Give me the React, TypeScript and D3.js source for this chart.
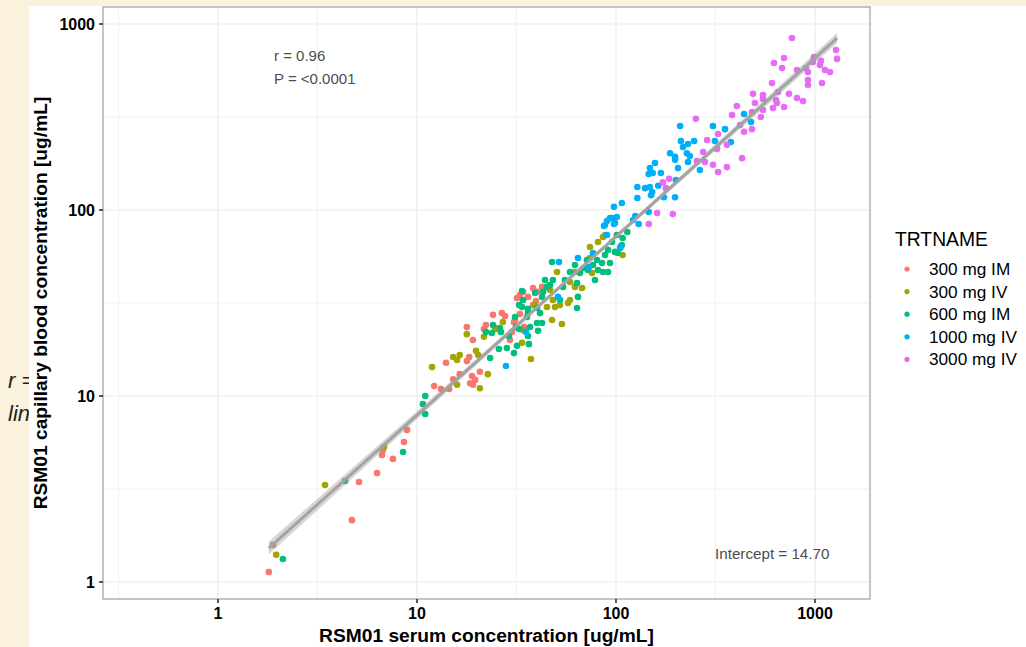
import * as d3 from 'd3';

const GROUPS = ['300 mg IM', '300 mg IV', '600 mg IM', '1000 mg IV', '3000 mg IV'];
const COLORS = ['#F8766D', '#A3A500', '#00BF7D', '#00B0F6', '#E76BF3'];

// [serum, capillary] in ug/mL
const im300 = [
  [1.80, 1.13], [1.89, 1.58], [4.71, 2.15], [5.11, 3.45], [6.30, 3.85], [6.67, 4.82], [6.75, 5.13], [7.57, 4.59], [8.60, 5.66], [8.91, 6.57],
  [12.2, 11.3], [13.2, 10.9], [14.5, 10.9], [15.2, 12.3], [14.0, 15.1], [18.3, 16.2], [17.8, 15.4], [16.4, 13.1], [18.9, 12.8], [18.5, 11.7],
  [19.6, 12.2], [20.7, 13.5], [19.1, 11.5], [19.1, 20.0], [17.8, 23.5], [21.7, 22.9], [22.2, 24.1], [24.1, 27.3], [27.7, 26.9], [29.3, 20.0],
  [30.0, 22.1], [30.7, 25.0], [32.9, 27.6], [31.8, 33.6], [34.1, 36.3], [34.5, 23.5], [38.3, 30.8], [39.6, 32.4], [26.7, 27.9], [31.1, 25.6],
  [24.7, 23.2], [32.9, 34.9], [36.1, 34.1], [38.3, 38.1], [40.1, 36.3], [42.5, 38.6],
];
const iv300 = [
  [1.96, 1.40], [3.45, 3.32], [6.83, 5.32], [11.9, 14.3], [15.9, 11.5], [15.2, 16.2], [16.4, 16.6], [15.9, 15.6], [20.7, 11.0], [22.7, 13.1],
  [19.8, 17.5], [20.3, 16.6], [17.8, 21.5], [21.7, 20.8], [24.9, 22.9], [27.0, 25.0], [33.7, 19.3], [37.4, 15.8], [34.1, 22.6], [39.2, 30.8],
  [47.7, 25.6], [53.5, 24.4], [46.6, 37.2], [50.5, 46.4], [48.2, 32.8], [45.0, 30.1], [49.4, 30.1], [52.3, 30.8], [58.7, 41.0], [58.7, 32.8],
  [57.4, 31.6], [62.2, 38.6], [62.2, 46.4], [67.5, 38.1], [74.0, 55.2], [74.0, 63.2], [75.8, 45.8], [81.2, 67.3], [86.0, 71.6], [108, 57.3],
  [88.1, 73.4],
];
const im600 = [
  [2.12, 1.33], [4.35, 3.49], [8.51, 5.0], [10.7, 9.06], [11.0, 8.0], [11.0, 10.0], [23.3, 16.0], [22.2, 22.1], [23.8, 21.8], [24.1, 24.1],
  [26.4, 22.1], [25.8, 17.9], [28.3, 18.1], [30.7, 17.0], [31.8, 18.6], [29.0, 21.0], [31.4, 23.5], [32.6, 22.9], [31.1, 26.6], [32.6, 30.8],
  [34.1, 32.8], [36.1, 21.0], [36.5, 19.0], [37.0, 23.5], [35.7, 26.6], [40.1, 24.7], [40.6, 22.4], [36.1, 29.4], [39.2, 35.8], [42.5, 34.1],
  [26.1, 23.2], [33.7, 36.7], [33.7, 30.1], [36.1, 27.9], [41.5, 27.9], [40.1, 29.7], [42.5, 24.7], [43.0, 36.3], [45.0, 38.6], [44.0, 42.0],
  [47.7, 52.5], [48.2, 42.0], [46.6, 39.5], [52.3, 32.8], [55.4, 42.0], [54.2, 38.6], [63.7, 29.7], [64.4, 34.1], [58.7, 46.4], [62.2, 50.6],
  [65.9, 45.8], [63.7, 40.5], [69.0, 48.8], [72.3, 47.6], [71.5, 53.8], [78.4, 42.0], [76.6, 50.6], [80.3, 53.8], [85.1, 51.9], [81.2, 47.6],
  [86.0, 46.4], [91.2, 46.4], [88.1, 57.3], [91.2, 61.0], [95.5, 67.3], [98.9, 59.5], [102, 58.7], [107, 64.8], [105, 62.5], [101, 73.4],
  [108, 70.7], [95.5, 90.6], [114, 76.2], [93.3, 51.9],
];
const iv1000 = [
  [28.0, 14.5], [35.3, 22.1], [51.7, 52.5], [51.1, 34.1], [64.4, 55.2], [73.2, 49.4], [76.6, 58.7], [90.1, 73.4], [105, 63.2], [88.1, 83.0],
  [90.1, 87.3], [93.3, 90.6], [98.9, 85.1], [101, 91.7], [97.7, 104], [107, 109], [87.1, 82.0], [97.7, 84.1], [122, 88.4], [125, 92.8],
  [130, 84.1], [146, 97.5], [128, 116], [128, 133], [140, 131], [148, 133], [152, 125], [163, 135], [150, 120], [174, 117],
  [198, 117], [200, 145], [157, 179], [148, 168], [146, 156], [153, 158], [168, 158], [187, 202], [198, 193], [198, 186],
  [205, 168], [212, 235], [217, 218], [230, 226], [247, 235], [210, 283], [227, 202], [235, 195], [230, 181], [264, 164],
  [307, 283], [353, 272], [314, 235], [440, 328], [477, 297], [378, 232],
];
const iv3000 = [
  [766, 841], [1276, 725], [1291, 649], [622, 617], [699, 656], [683, 580], [812, 566], [901, 580], [988, 665], [977, 625],
  [1072, 633], [1059, 602], [922, 552], [1122, 566], [1189, 552], [922, 500], [922, 470], [1084, 482], [608, 482], [740, 421],
  [812, 400], [871, 385], [652, 431], [488, 421], [548, 415], [548, 395], [499, 376], [637, 390], [644, 376], [615, 353],
  [699, 358], [405, 362], [548, 345], [383, 324], [482, 336], [535, 316], [420, 286], [440, 263], [482, 272], [326, 256],
  [287, 238], [361, 224], [322, 213], [274, 205], [307, 175], [280, 181], [326, 160], [361, 170], [430, 190], [252, 309],
  [255, 183], [185, 147], [172, 141], [178, 131], [161, 96.3], [193, 95.2], [146, 84.1],
];
const SERIES = [im300, iv300, im600, iv1000, iv3000];

const MAJOR = [1, 10, 100, 1000];
const MINOR = [0.316, 3.16, 31.6, 316];
// log10 fit
const FIT_INTERCEPT = -0.063;
const FIT_SLOPE = 0.96;

const FONT = 'Liberation Sans, Arial, Helvetica, sans-serif';

export default function App() {
  const W = 1026, H = 647;
  const panel = { left: 103, right: 870, top: 7, bottom: 599 };

  const x = d3.scaleLog().domain([0.2643, 1890]).range([panel.left, panel.right]);
  const y = d3.scaleLog().domain([0.81, 1234]).range([panel.bottom, panel.top]);

  // confidence band of the log-log fit
  const all = SERIES.flat();
  const lx = all.map(d => Math.log10(d[0]));
  const ly = all.map(d => Math.log10(d[1]));
  const n = all.length;
  const xbar = d3.mean(lx);
  const sxx = d3.sum(lx, v => (v - xbar) ** 2);
  const s = Math.sqrt(d3.sum(lx, (v, i) => (ly[i] - (FIT_INTERCEPT + FIT_SLOPE * v)) ** 2) / (n - 2));
  const [lo, hi] = d3.extent(lx);
  const fitPts = d3.range(0, 81).map(i => {
    const lv = lo + (hi - lo) * i / 80;
    const fit = FIT_INTERCEPT + FIT_SLOPE * lv;
    const se = 1.97 * s * Math.sqrt(1 / n + (lv - xbar) ** 2 / sxx);
    return { xv: 10 ** lv, fit: 10 ** fit, lo: 10 ** (fit - se), hi: 10 ** (fit + se) };
  });
  const line = d3.line().x(d => x(d.xv)).y(d => y(d.fit))(fitPts);
  const band = d3.area().x(d => x(d.xv)).y0(d => y(d.lo)).y1(d => y(d.hi))(fitPts);

  const inX = v => x(v) >= panel.left && x(v) <= panel.right;
  const inY = v => y(v) >= panel.top && y(v) <= panel.bottom;

  return (
    <svg width={W} height={H} style={{ position: 'fixed', left: 0, top: 0 }} fontFamily={FONT}>
      <defs>
        <clipPath id="panel">
          <rect x={panel.left} y={panel.top} width={panel.right - panel.left} height={panel.bottom - panel.top} />
        </clipPath>
        <clipPath id="behind">
          <rect x={0} y={0} width={29} height={H} />
        </clipPath>
      </defs>

      <rect width={W} height={H} fill="#fbf2dd" />
      {/* page text peeking out from behind the chart card */}
      <g clipPath="url(#behind)">
        <text x={8} y={388} fontSize={22} fontStyle="italic" fill="#222">r =</text>
        <text x={8} y={421} fontSize={22} fontStyle="italic" fill="#222">lin</text>
      </g>
      <rect x={29} y={6} width={W - 29} height={H - 6} fill="#fff" />

      {MINOR.filter(inX).map(v => (
        <line key={'mx' + v} x1={x(v)} x2={x(v)} y1={panel.top} y2={panel.bottom} stroke="#f1f1f1" strokeWidth={1} />
      ))}
      {MINOR.filter(inY).map(v => (
        <line key={'my' + v} y1={y(v)} y2={y(v)} x1={panel.left} x2={panel.right} stroke="#f1f1f1" strokeWidth={1} />
      ))}
      {MAJOR.map(v => (
        <line key={'gx' + v} x1={x(v)} x2={x(v)} y1={panel.top} y2={panel.bottom} stroke="#ebebeb" strokeWidth={1.2} />
      ))}
      {MAJOR.map(v => (
        <line key={'gy' + v} y1={y(v)} y2={y(v)} x1={panel.left} x2={panel.right} stroke="#ebebeb" strokeWidth={1.2} />
      ))}

      <g clipPath="url(#panel)">
        {SERIES.map((pts, gi) => pts.map((d, i) => (
          <circle key={gi + '-' + i} cx={x(d[0])} cy={y(d[1])} r={3.3} fill={COLORS[gi]} />
        )))}
        <path d={band} fill="#999" opacity={0.4} />
        <path d={line} fill="none" stroke="#a3a3a3" strokeWidth={3} />
      </g>

      <text x={274} y={61} fontSize={15} fill="#4d4d4d">r = 0.96</text>
      <text x={274} y={84} fontSize={15} fill="#4d4d4d">P = &lt;0.0001</text>
      <text x={715} y={559} fontSize={15.2} fill="#4d4d4d">Intercept = 14.70</text>

      <rect x={panel.left} y={panel.top} width={panel.right - panel.left} height={panel.bottom - panel.top}
        fill="none" stroke="#8a8a8a" strokeWidth={1} />

      {MAJOR.map(v => (
        <g key={'tx' + v}>
          <line x1={x(v)} x2={x(v)} y1={panel.bottom} y2={panel.bottom + 4} stroke="#222" strokeWidth={1.5} />
          <text x={x(v)} y={619} textAnchor="middle" fontSize={16} fontWeight="bold" fill="#000">{v}</text>
        </g>
      ))}
      {MAJOR.map(v => (
        <g key={'ty' + v}>
          <line x1={panel.left - 4} x2={panel.left} y1={y(v)} y2={y(v)} stroke="#222" strokeWidth={1.5} />
          <text x={95} y={y(v) + 5.8} textAnchor="end" fontSize={16} fontWeight="bold" fill="#000">{v}</text>
        </g>
      ))}

      <text x={(panel.left + panel.right) / 2} y={642} textAnchor="middle" fontSize={19.2} fontWeight="bold" fill="#000">
        RSM01 serum concentration [ug/mL]
      </text>
      <text transform={`translate(47,${(panel.top + panel.bottom) / 2}) rotate(-90)`} textAnchor="middle"
        fontSize={19.2} fontWeight="bold" fill="#000">
        RSM01 capillary blood concentration [ug/mL]
      </text>

      <text x={895} y={246} fontSize={19.3} fill="#000">TRTNAME</text>
      {GROUPS.map((g, i) => (
        <g key={g}>
          <circle cx={907} cy={269 + i * 22.6} r={2.6} fill={COLORS[i]} />
          <text x={929} y={275 + i * 22.6} fontSize={17.2} fill="#000">{g}</text>
        </g>
      ))}
    </svg>
  );
}
